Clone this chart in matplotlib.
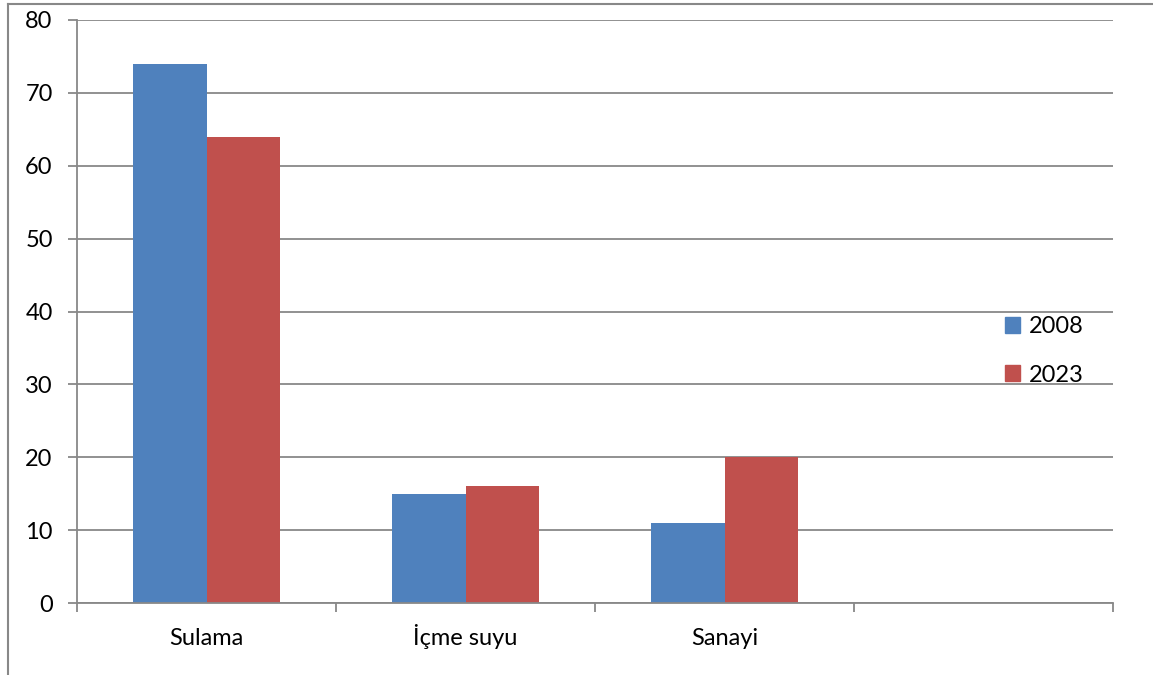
import matplotlib
matplotlib.use('Agg')
import matplotlib.pyplot as plt
from matplotlib.lines import Line2D
from matplotlib.patches import Patch
import numpy as np

plt.rcParams['font.family'] = ['Lato', 'DejaVu Sans']

categories = ['Sulama', 'İçme suyu', 'Sanayi', '']
v2008 = [74, 15, 11]
v2023 = [64, 16, 20]
years = ['2008', '2023']

blue = '#4F81BD'
red = '#C0504D'
grid = '#888888'

fig = plt.figure(figsize=(11.53, 6.75), dpi=100)
ax = fig.add_axes([77/1153, 1 - 603/675, (1113 - 77)/1153, (603 - 20)/675])

w = 0.2857
x = np.arange(len(v2008))
ax.bar(x - w/2, v2008, width=w, color=blue, zorder=3)
ax.bar(x + w/2, v2023, width=w, color=red, zorder=3)

ax.set_xlim(-0.5, 3.5)
ax.set_ylim(0, 80)
ax.set_yticks(range(0, 81, 10))
ax.yaxis.grid(True, color=grid, linewidth=1.3, zorder=0)
ax.tick_params(axis='y', length=6.5, width=1.3, color=grid, labelsize=17, pad=11)

ax.set_xticks(range(len(categories)))
ax.set_xticklabels(categories, va='baseline')
ax.set_xticks(np.arange(-0.5, 3.6, 1), minor=True)
ax.tick_params(axis='x', which='major', length=0, labelsize=17, pad=30)
ax.tick_params(axis='x', which='minor', length=6.5, width=1.3, color=grid)

for s in ['top', 'right']:
    ax.spines[s].set_visible(False)
for s in ['left', 'bottom']:
    ax.spines[s].set_color(grid)
    ax.spines[s].set_linewidth(1.3)
ax.spines['bottom'].set_zorder(4)

handles = [Patch(color=blue), Patch(color=red)]
fig.legend(handles, years, loc='center left', bbox_to_anchor=(1005/1153, 1 - 351/675),
           frameon=False, fontsize=17, handlelength=0.64, handleheight=0.64,
           handletextpad=0.35, labelspacing=1.15, borderpad=0, borderaxespad=0)

# outer chart frame (cropped on right and bottom)
fig.add_artist(Line2D([8/1153, 8/1153], [0, 1 - 4/675], transform=fig.transFigure,
                      color=grid, linewidth=1.5))
fig.add_artist(Line2D([8/1153, 1], [1 - 4/675, 1 - 4/675], transform=fig.transFigure,
                      color=grid, linewidth=1.5))

fig.savefig('out.png', dpi=100)
